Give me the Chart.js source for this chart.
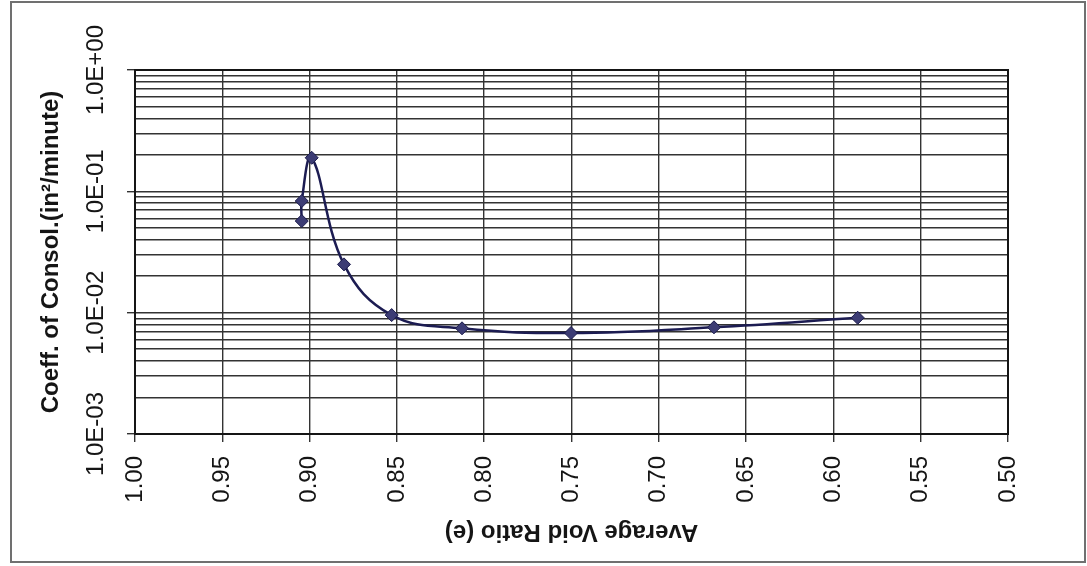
<!DOCTYPE html>
<html>
<head>
<meta charset="utf-8">
<title>Coefficient of Consolidation</title>
<script src="https://cdn.jsdelivr.net/npm/chart.js@4.4.1/dist/chart.umd.min.js"></script>
<style>
  html, body { margin: 0; padding: 0; background: #fff; }
  canvas { display: block; }
</style>
</head>
<body>
<canvas id="cvChart" width="1087" height="566"></canvas>
<script>
// average void ratio (e) for each load increment
const voidRatio = [0.9045, 0.9045, 0.8988, 0.8803, 0.8530, 0.8127, 0.7503, 0.6684, 0.5861];
// coefficient of consolidation, in^2/minute
const cvValues = [0.0569, 0.0832, 0.189, 0.0250, 0.00955, 0.00743, 0.00679, 0.00757, 0.00908];

const yTickValues = [0.001, 0.01, 0.1, 1];
const yTickLabels = ['1.0E-03', '1.0E-02', '1.0E-01', '1.0E+00'];

const FONT = '"Liberation Sans", Arial, sans-serif';
const INK = '#151515';
const GRID = '#333';

const points = voidRatio.map((e, i) => ({x: e, y: cvValues[i]}));

function decadeIndex(v) {
  return yTickValues.findIndex(d => Math.abs(v - d) / d < 1e-6);
}

// outer frame, heavier plot box and the upside-down x title
const extras = {
  id: 'extras',
  beforeDraw(chart) {
    const ctx = chart.ctx;
    ctx.save();
    ctx.fillStyle = '#fff';
    ctx.fillRect(0, 0, chart.width, chart.height);
    ctx.strokeStyle = '#707070';
    ctx.lineWidth = 2;
    ctx.strokeRect(11, 2, chart.width - 13, chart.height - 6);
    ctx.restore();
  },
  beforeDatasetsDraw(chart) {
    const ctx = chart.ctx;
    const a = chart.chartArea;
    ctx.save();
    ctx.strokeStyle = INK;
    ctx.lineWidth = 2;
    ctx.strokeRect(a.left, a.top, a.right - a.left, a.bottom - a.top);
    ctx.translate((a.left + a.right) / 2, a.bottom + 98);
    ctx.rotate(Math.PI);
    ctx.font = 'bold 24px ' + FONT;
    ctx.fillStyle = INK;
    ctx.textAlign = 'center';
    ctx.textBaseline = 'middle';
    ctx.fillText('Average Void Ratio (e)', 0, 0);
    ctx.restore();
  }
};

new Chart(document.getElementById('cvChart'), {
  type: 'scatter',
  data: {
    datasets: [{
      data: points,
      showLine: true,
      borderColor: '#1c1c52',
      borderWidth: 2.5,
      tension: 0.4,
      pointStyle: 'rectRot',
      pointRadius: 6.5,
      pointBackgroundColor: '#3c3c74',
      pointBorderColor: '#1c1c4c',
      pointBorderWidth: 1
    }]
  },
  options: {
    responsive: false,
    animation: false,
    devicePixelRatio: 1,
    layout: { padding: { left: 0, top: 70, right: 79, bottom: 0 } },
    plugins: {
      legend: { display: false },
      tooltip: { enabled: false }
    },
    scales: {
      x: {
        type: 'linear',
        reverse: true,
        min: 0.5,
        max: 1.0,
        afterFit(scale) { scale.height = 132; },
        ticks: {
          stepSize: 0.05,
          minRotation: 90,
          maxRotation: 90,
          padding: 14,
          color: INK,
          font: { family: FONT, size: 24 },
          callback: v => v.toFixed(2)
        },
        grid: { color: GRID, lineWidth: 1.4, tickLength: 8, tickColor: GRID },
        border: { color: INK, width: 2 }
      },
      y: {
        type: 'logarithmic',
        min: 0.001,
        max: 1,
        afterFit(scale) { scale.width = 135; },
        afterBuildTicks(scale) {
          // keep only 1..9 x 10^n
          scale.ticks = scale.ticks.filter(t => {
            const m = t.value / Math.pow(10, Math.floor(Math.log10(t.value) + 1e-9));
            return Math.abs(m - Math.round(m)) < 1e-6;
          });
        },
        ticks: {
          autoSkip: false,
          minRotation: 90,
          maxRotation: 90,
          crossAlign: 'center',
          padding: -14,
          color: INK,
          font: { family: FONT, size: 24 },
          callback: v => {
            const i = decadeIndex(v);
            return i >= 0 ? yTickLabels[i] : '';
          }
        },
        grid: {
          color: GRID,
          lineWidth: 1.4,
          tickLength: 8,
          tickColor: ctx => decadeIndex(ctx.tick.value) >= 0 ? GRID : 'rgba(0,0,0,0)'
        },
        border: { color: INK, width: 2 },
        title: {
          display: true,
          text: 'Coeff. of Consol.(in²/minute)',
          color: INK,
          font: { family: FONT, size: 24, weight: 'bold' },
          padding: { top: 37, bottom: 0 }
        }
      }
    }
  },
  plugins: [extras]
});
</script>
</body>
</html>
